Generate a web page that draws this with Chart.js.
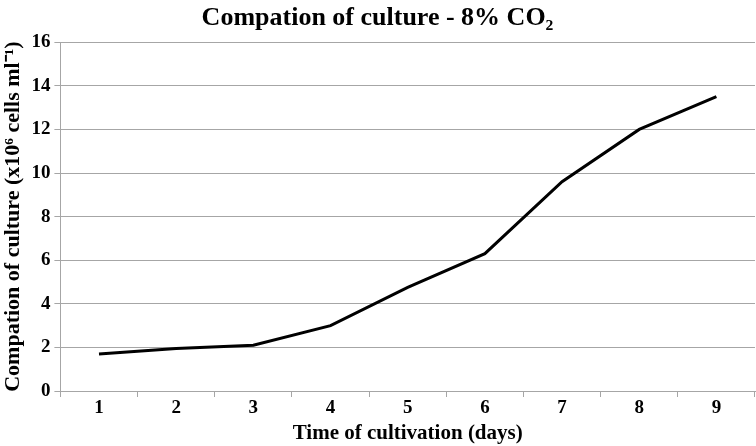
<!DOCTYPE html>
<html>
<head>
<meta charset="utf-8">
<script src="https://cdn.jsdelivr.net/npm/chart.js@4"></script>
<style>
  html, body { margin: 0; padding: 0; background: #fff; }
  #wrap { width: 756px; height: 446px; }
</style>
</head>
<body>
<div id="wrap"><canvas id="mainChart" width="756" height="446"></canvas></div>
<script>
const days = ["1", "2", "3", "4", "5", "6", "7", "8", "9"];
const cellCounts = [1.7, 1.95, 2.1, 3.0, 4.75, 6.3, 9.6, 12.0, 13.5];
const yMin = 0;
const yMax = 16;
const yStep = 2;

const serif = "'Liberation Serif', 'Times New Roman', serif";
const axisGray = "#a6a6a6";

new Chart(document.getElementById("mainChart"), {
  type: "line",
  data: {
    labels: days,
    datasets: [
      {
        label: "Compation",
        data: cellCounts,
        borderColor: "#000",
        borderWidth: 3,
        pointRadius: 0,
        tension: 0,
        fill: false,
      },
    ],
  },
  options: {
    responsive: false,
    animation: false,
    layout: { padding: { top: 3, right: 1, left: 0, bottom: 0 } },
    plugins: {
      legend: { display: false },
      tooltip: { enabled: false },
      title: {
        display: true,
        text: "Compation of culture - 8% CO\u2082",
        color: "#000",
        font: { family: serif, size: 26, weight: "bold" },
        padding: { top: 0, bottom: 8 },
      },
    },
    scales: {
      x: {
        offset: true,
        grid: {
          offset: true,
          drawOnChartArea: false,
          drawTicks: true,
          tickLength: 6,
          color: axisGray,
        },
        border: { color: axisGray, width: 1 },
        ticks: {
          color: "#000",
          font: { family: serif, size: 19, weight: "bold" },
          padding: 0,
        },
        title: {
          display: true,
          text: "Time of cultivation (days)",
          color: "#000",
          font: { family: serif, size: 21, weight: "bold" },
          padding: { top: 1, bottom: 0 },
        },
      },
      y: {
        min: yMin,
        max: yMax,
        grid: {
          color: axisGray,
          drawTicks: true,
          tickLength: 6,
        },
        border: { color: axisGray, width: 1 },
        ticks: {
          stepSize: yStep,
          color: "#000",
          font: { family: serif, size: 19, weight: "bold" },
          padding: 4,
        },
        title: {
          display: true,
          text: "Compation of culture (x10\u2076 cells ml\u207B\u00B9)",
          color: "#000",
          font: { family: serif, size: 22, weight: "bold" },
          padding: { top: 0, bottom: 1 },
        },
      },
    },
  },
});
</script>
</body>
</html>
